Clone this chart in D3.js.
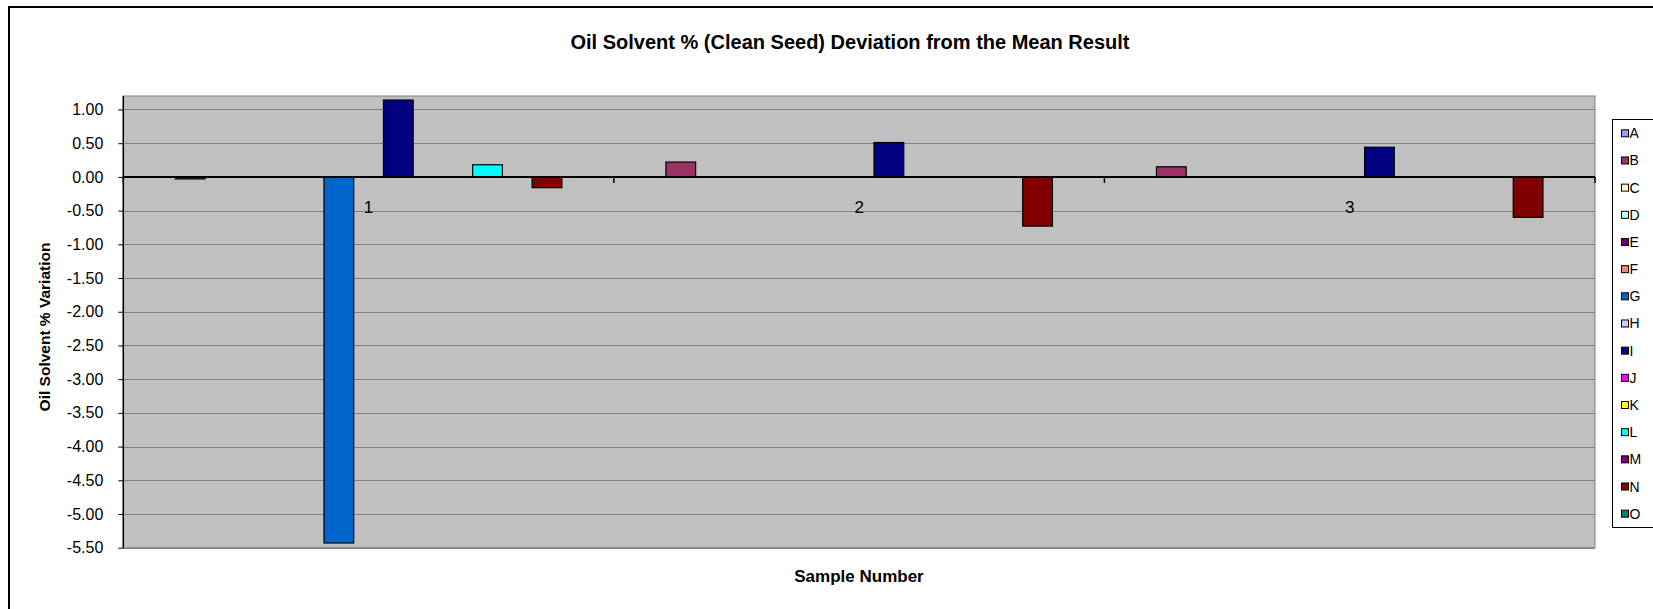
<!DOCTYPE html>
<html>
<head>
<meta charset="utf-8">
<script src="https://cdn.jsdelivr.net/npm/d3@7"></script>
<style>
  html, body { margin: 0; padding: 0; background: #fff; overflow: hidden; }
  svg { display: block; font-family: "Liberation Sans", Arial, sans-serif; }
</style>
</head>
<body>
<svg id="chart" width="1653" height="609"></svg>
<script>
// ---- data ----
const samples = ["1", "2", "3"];
const seriesNames = ["A","B","C","D","E","F","G","H","I","J","K","L","M","N","O"];
const seriesColors = ["#9999FF","#993366","#FFFFCC","#CCFFFF","#660066","#FF8080","#0066CC","#CCCCFF","#000080","#FF00FF","#FFFF00","#00FFFF","#800080","#800000","#008080"];
const valuesA = [null, null, null];
const valuesB = [-0.03, 0.22, 0.15];
const valuesC = [null, null, null];
const valuesD = [null, null, null];
const valuesE = [null, null, null];
const valuesF = [null, null, null];
const valuesG = [-5.43, null, null];
const valuesH = [null, null, null];
const valuesI = [1.14, 0.51, 0.44];
const valuesJ = [null, null, null];
const valuesK = [null, null, null];
const valuesL = [0.18, null, null];
const valuesM = [null, null, null];
const valuesN = [-0.16, -0.73, -0.60];
const valuesO = [null, null, null];
const yTicks = [1.0,0.5,0.0,-0.5,-1.0,-1.5,-2.0,-2.5,-3.0,-3.5,-4.0,-4.5,-5.0,-5.5];
const titleText = "Oil Solvent % (Clean Seed) Deviation from the Mean Result";
const yTitle = "Oil Solvent % Variation";
const xTitle = "Sample Number";

const allValues = [valuesA,valuesB,valuesC,valuesD,valuesE,valuesF,valuesG,valuesH,valuesI,valuesJ,valuesK,valuesL,valuesM,valuesN,valuesO];

// ---- layout ----
const svg = d3.select("#chart");
const plot = {left: 123.3, right: 1595, top: 96, bottom: 547.7};

// chart frame
svg.append("rect").attr("x", 9).attr("y", 7).attr("width", 1700).attr("height", 700)
  .attr("fill", "#fff").attr("stroke", "#000").attr("stroke-width", 2);

const x0 = d3.scaleBand().domain(samples).range([plot.left, plot.right]).paddingInner(0).paddingOuter(0);
const x1 = d3.scaleBand().domain(seriesNames).range([0, x0.bandwidth()]).paddingInner(0).paddingOuter(0.75);
const y = d3.scaleLinear().domain([-5.5, 1.2]).range([plot.bottom, plot.top]);

// plot background
svg.append("rect").attr("x", plot.left).attr("y", plot.top)
  .attr("width", plot.right - plot.left).attr("height", plot.bottom - plot.top)
  .attr("fill", "#C0C0C0").attr("stroke", "#808080").attr("stroke-width", 1);

// gridlines
svg.append("g").selectAll("line").data(yTicks).join("line")
  .attr("x1", plot.left).attr("x2", plot.right)
  .attr("y1", d => Math.round(y(d)) + 0.5).attr("y2", d => Math.round(y(d)) + 0.5)
  .attr("stroke", "#808080").attr("stroke-width", 1);

// y axis
const yAxis = d3.axisLeft(y).tickValues(yTicks).tickSize(5).tickPadding(15)
  .tickFormat(d3.format(".2f"));
const gy = svg.append("g").attr("transform", `translate(${plot.left},0)`).call(yAxis);
gy.select(".domain").remove();
gy.append("line").attr("x1", 0).attr("x2", 0).attr("y1", plot.top).attr("y2", plot.bottom)
  .attr("stroke", "#000").attr("stroke-width", 1.5);
gy.selectAll(".tick line").attr("stroke", "#000");
gy.selectAll(".tick text").attr("font-size", 16).attr("fill", "#000")
  .attr("font-family", "'Liberation Sans', Arial, sans-serif")
  .text(d => d3.format(".2f")(d).replace("−", "-"));

// bars
const groups = svg.append("g").selectAll("g").data(samples).join("g")
  .attr("transform", d => `translate(${x0(d)},0)`);
groups.each(function(s, si) {
  const g = d3.select(this);
  const data = seriesNames.map((n, k) => ({name: n, color: seriesColors[k], v: allValues[k][si]}))
    .filter(d => d.v !== null);
  g.selectAll("rect").data(data).join("rect")
    .attr("x", d => x1(d.name))
    .attr("width", x1.bandwidth())
    .attr("y", d => y(Math.max(0, d.v)))
    .attr("height", d => Math.abs(y(d.v) - y(0)))
    .attr("fill", d => d.color)
    .attr("stroke", "#000").attr("stroke-width", 1.2);
});

// category axis at zero
const y0 = y(0);
svg.append("line").attr("x1", plot.left).attr("x2", plot.right).attr("y1", y0).attr("y2", y0)
  .attr("stroke", "#000").attr("stroke-width", 2);
const boundaries = samples.map(s => x0(s)).concat([plot.right]);
svg.append("g").selectAll("line").data(boundaries).join("line")
  .attr("x1", d => d).attr("x2", d => d).attr("y1", y0).attr("y2", y0 + 6)
  .attr("stroke", "#000").attr("stroke-width", 1.5);
svg.append("g").selectAll("text").data(samples).join("text")
  .attr("x", d => x0(d) + x0.bandwidth() / 2).attr("y", y0 + 36)
  .attr("text-anchor", "middle").attr("font-size", 17).attr("fill", "#000").text(d => d);

// titles
svg.append("text").attr("x", 850).attr("y", 49).attr("text-anchor", "middle")
  .attr("font-size", 20).attr("font-weight", "bold").text(titleText);
svg.append("text").attr("transform", "translate(50,327) rotate(-90)").attr("text-anchor", "middle")
  .attr("font-size", 15.5).attr("font-weight", "bold").text(yTitle);
svg.append("text").attr("x", 859).attr("y", 582).attr("text-anchor", "middle")
  .attr("font-size", 17).attr("font-weight", "bold").text(xTitle);

// legend
const leg = svg.append("g");
leg.append("rect").attr("x", 1612.5).attr("y", 119.5).attr("width", 80).attr("height", 408)
  .attr("fill", "#fff").attr("stroke", "#000").attr("stroke-width", 1);
const items = leg.selectAll("g").data(seriesNames).join("g")
  .attr("transform", (d, i) => `translate(0,${133.3 + i * 27.17})`);
items.append("rect").attr("x", 1621.5).attr("y", -3.5).attr("width", 7).attr("height", 7)
  .attr("fill", (d, i) => seriesColors[i]).attr("stroke", "#000").attr("stroke-width", 1);
items.append("text").attr("x", 1629.5).attr("y", 5).attr("font-size", 14).attr("fill", "#000").text(d => d);
</script>
</body>
</html>
